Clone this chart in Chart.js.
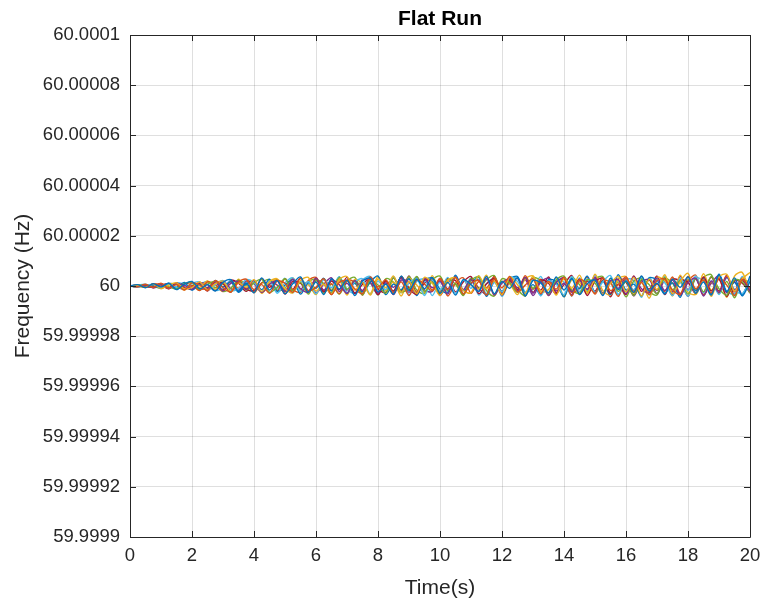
<!DOCTYPE html>
<html>
<head>
<meta charset="utf-8">
<style>
  body { margin: 0; background: #fff; }
</style>
</head>
<body>
<div>
  <canvas id="myChart" width="762" height="606"></canvas>
</div>

<script src="https://cdn.jsdelivr.net/npm/chart.js"></script>

<script>
  // time axis (s), one sample every 0.25 s
  const times = [
    0, 0.25, 0.5, 0.75, 1, 1.25, 1.5, 1.75, 2, 2.25,
    2.5, 2.75, 3, 3.25, 3.5, 3.75, 4, 4.25, 4.5, 4.75,
    5, 5.25, 5.5, 5.75, 6, 6.25, 6.5, 6.75, 7, 7.25,
    7.5, 7.75, 8, 8.25, 8.5, 8.75, 9, 9.25, 9.5, 9.75,
    10, 10.25, 10.5, 10.75, 11, 11.25, 11.5, 11.75, 12, 12.25,
    12.5, 12.75, 13, 13.25, 13.5, 13.75, 14, 14.25, 14.5, 14.75,
    15, 15.25, 15.5, 15.75, 16, 16.25, 16.5, 16.75, 17, 17.25,
    17.5, 17.75, 18, 18.25, 18.5, 18.75, 19, 19.25, 19.5, 19.75,
    20
  ];

  // deviation from 60 Hz, read in units of 0.18 µHz (about 0.45 px on this axis)
  const devBlue = [
    0, 3, -4, 5, -2, 6, -8, 4, 10, -6,
    3, -11, 8, 14, -12, 6, -15, 18, -9, 12,
    -17, 5, 20, -14, 9, -19, 16, -7, 13, -21,
    11, 17, -13, 4, -18, 22, -10, 15, -6, 19,
    -16, 8, -20, 14, 3, -12, 21, -17, 10, -5,
    18, -22, 12, 7, -15, 20, -9, 16, -19, 5,
    13, -21, 17, -8, 11, -14, 22, -11, 6, -18,
    15, -3, 20, -16, 9, -20, 24, -12, 18, -22,
    10
  ];
  const devOrange = [
    0, -2, 4, -3, 6, -5, 3, -9, 7, 2,
    -10, 12, -4, -13, 9, 15, -8, 3, -16, 11,
    6, -14, 18, -10, -3, 16, -19, 8, 12, -6,
    -17, 20, -2, 14, -15, 9, -21, 13, 4, -11,
    17, -8, 19, -18, 6, 12, -20, 15, -4, 21,
    -13, 2, 16, -17, 10, -7, 19, -22, 14, 5,
    -16, 18, -10, 3, 20, -14, 8, -19, 12, 15,
    -9, -18, 21, -6, 13, -15, 17, 2, -21, 14,
    -4
  ];
  const devYellow = [
    0, 1, -3, 4, -5, 2, 7, -6, -3, 9,
    -8, 5, 11, -13, 7, -3, 14, -12, 10, 16,
    -6, -15, 12, 19, -11, 4, -18, 15, 21, -9,
    8, -20, 16, -4, 22, -14, 10, -17, 19, 6,
    -21, 13, 18, -10, -15, 23, -7, 11, -19, 20,
    3, -16, 22, -12, 9, -20, 17, -5, 24, -14,
    12, -18, 6, 21, -13, 19, -22, 15, -8, 25,
    -17, 10, 28, -19, 14, -23, 20, 26, -11, 16,
    30
  ];
  const devPurple = [
    0, -1, 2, -4, 3, -6, 5, 2, -7, 8,
    -5, 9, -11, 6, 10, -8, 13, -14, 4, 11,
    -12, 15, -6, -13, 17, -9, 14, 3, -16, 12,
    -10, 18, -15, 7, -19, 13, 9, -17, 16, -4,
    11, -18, 20, -8, 14, -12, 17, -20, 6, 15,
    -11, 19, -16, 10, -21, 8, 18, -13, 12, -7,
    16, -19, 9, 14, -17, 20, -6, -15, 18, -10,
    13, -20, 7, 17, -22, 11, -14, 19, -9, 15,
    -12
  ];
  const devGreen = [
    0, 2, 1, -3, 4, -2, -6, 5, 8, -7,
    4, 10, -12, -5, 13, -9, 7, 15, -14, -3,
    16, -11, 8, -18, 13, 5, -15, 19, -7, 11,
    -20, 14, 2, -16, 18, -12, -6, 21, -13, 9,
    -17, 15, 4, -19, 12, 20, -10, -22, 16, 7,
    -14, 18, -5, 11, -20, 13, 22, -9, -16, 14,
    6, -19, 17, -12, 10, -21, 15, 3, -17, 19,
    -8, 12, -18, 16, -13, 21, -6, -20, 14, 9,
    -15
  ];
  const devCyan = [
    0, -3, 2, 3, -4, 5, -3, -7, 6, 9,
    -9, 3, 12, -10, -6, 14, 8, -13, 11, -16,
    7, 18, -12, 10, -17, 14, -4, 20, -15, 9,
    16, -19, 11, -8, 21, -14, 6, 17, -21, 12,
    -9, 19, -16, 13, -5, 22, -18, 8, -13, 20,
    10, -17, 15, -22, 11, 4, -19, 21, -12, 16,
    -14, 9, 23, -18, 12, -8, 19, -20, 14, 7,
    -21, 17, -10, 22, -15, 11, -19, 18, -7, -17,
    13
  ];
  const devRed = [
    0, 2, -2, -1, 5, -4, 6, -5, -2, 7,
    -11, 9, 5, -14, 12, -7, -10, 16, -3, 13,
    -18, 10, 6, -15, 17, -13, 11, -8, 19, -16,
    4, 15, -19, 12, -11, 20, -6, -18, 14, 10,
    -15, 17, -13, 9, 21, -17, 5, 16, -20, 12,
    -8, 19, -14, 13, 6, -18, 20, -11, 15, -21,
    10, 17, -16, 4, -19, 22, -12, 14, -9, 18,
    -20, 13, 8, -17, 20, -11, 15, -23, 12, 6,
    -14
  ];
  const devBlue2 = [
    0, -2, 3, 1, -4, 6, -3, 8, -9, 5,
    -7, 12, -2, 9, -14, 4, 11, -8, 15, -12,
    2, 14, -18, 7, -5, 17, -11, 20, -16, 6,
    -13, 9, 22, -19, 4, -8, 16, -21, 12, 18,
    -7, -15, 24, -10, 5, 19, -23, 8, -12, 15,
    21, -17, 3, -20, 14, 9, -24, 17, -6, 22,
    -14, 11, -19, 25, -9, 4, -22, 18, 13, -16,
    7, -25, 20, -11, 16, -18, 26, -13, 8, -20,
    22
  ];
  const devOrange2 = [
    0, 1, -3, 5, 2, -6, 7, -4, 1, -10,
    9, 3, -12, 10, -5, 13, -15, 7, 2, -11,
    16, -8, -14, 12, 19, -10, 5, -17, 13, 8,
    -20, 15, -6, 11, -18, 21, -3, -13, 17, -9,
    14, -22, 6, 18, -16, 10, -4, 20, -19, 12,
    -11, 23, -7, 15, -21, 9, 16, -14, -5, 19,
    -18, 13, 7, -23, 17, -10, 21, -15, 4, -12,
    20, -17, 11, 24, -20, 8, -16, 22, -13, 18,
    -10
  ];
  const devYellow2 = [
    0, -1, -2, 4, -6, 3, 5, -9, 8, -3,
    11, -7, 4, -12, 15, -5, 9, -16, 6, 13,
    -14, 18, -9, 3, -19, 16, -8, 12, -20, 14,
    5, -17, 21, -11, 9, -22, 17, 2, -15, 23,
    -12, 8, 20, -18, 13, -7, 24, -21, 10, 4,
    -19, 16, 22, -13, -8, 18, -24, 14, 9, -17,
    26, -10, -20, 15, 21, -16, 8, -27, 19, 12,
    -22, 24, -14, -18, 27, -9, 15, -25, 22, 30,
    -15
  ];
  const devPurple2 = [
    0, 2, -3, 1, 4, -5, 6, -2, -8, 7,
    3, -10, 12, -6, -9, 11, 5, -14, 10, 2,
    -13, 16, -7, 9, -15, 4, 18, -12, 6, -17,
    14, 8, -19, 11, -3, 17, -14, 20, -9, -12,
    16, -6, 19, -17, 7, 13, -20, 10, -15, 18,
    -4, 14, -21, 9, 17, -11, 6, -19, 15, -8,
    20, -16, 12, -5, 18, -22, 9, 14, -17, 11,
    -13, 21, -8, 16, -19, 6, 23, -15, 10, -18,
    14
  ];
  const devGreen2 = [
    0, -2, 3, -1, -4, 5, 3, -7, 6, -9,
    10, -4, 8, -11, 12, 3, -13, 7, 14, -10,
    -5, 17, -12, 9, 15, -16, 4, -18, 11, 19,
    -13, 6, -20, 16, 8, -15, 21, -9, -17, 13,
    22, -11, 5, -21, 17, -6, 14, 23, -19, 10,
    -8, -22, 18, 12, -16, 7, -23, 20, 3, -13,
    15, 21, -18, 9, -24, 11, 17, -12, -20, 16,
    6, -21, 14, -9, 19, 25, -17, 10, -26, 13,
    8
  ];
  const devCyan2 = [
    0, 2, 4, -3, 1, -5, 7, 4, -8, 3,
    10, -9, -5, 13, -11, 8, 6, -14, 12, -7,
    17, -15, 9, 4, -18, 14, -10, 19, -6, -16,
    13, 21, -17, 7, -12, 20, -19, 10, 15, -21,
    8, -14, 22, -9, 18, -20, 5, 16, -23, 11,
    19, -13, -7, 21, -17, 14, 9, -22, 18, -11,
    24, -16, 7, -20, 15, 12, -25, 19, -10, 22,
    -14, 8, -23, 18, 11, -19, 26, -12, -17, 21,
    -9
  ];
  const devRed2 = [
    0, -1, 3, -4, 2, 5, -7, 3, 8, -6,
    -4, 11, -9, 13, 6, -12, 10, -15, 4, 14,
    -10, -8, 17, -14, 12, 5, -19, 16, -9, 13,
    -18, 20, -7, -14, 18, -11, 22, -16, 6, 15,
    -21, 9, 12, -19, 16, -5, -18, 21, -13, 8,
    17, -22, 14, -9, 20, -15, 3, 23, -18, 11,
    -12, 19, -24, 16, 8, -20, 13, -7, 22, -19,
    15, 10, -23, 17, -14, 20, -11, 24, -21, 12,
    -16
  ];

  const seriesList = [
    devBlue, devOrange, devYellow, devPurple, devGreen, devCyan, devRed,
    devBlue2, devOrange2, devYellow2, devPurple2, devGreen2, devCyan2, devRed2
  ];
  const seriesColors = ['#0072BD', '#D95319', '#EDB120', '#7E2F8E', '#77AC30', '#4DBEEE', '#A2142F'];

  const nominal = 60;
  const devUnit = 1.8e-7;

  const yTicks = [59.9999, 59.99992, 59.99994, 59.99996, 59.99998, 60, 60.00002, 60.00004, 60.00006, 60.00008, 60.0001];
  const yTickLabels = ['59.9999', '59.99992', '59.99994', '59.99996', '59.99998', '60', '60.00002', '60.00004', '60.00006', '60.00008', '60.0001'];
  const xTicks = [0, 2, 4, 6, 8, 10, 12, 14, 16, 18, 20];

  const axisColor = '#262626';
  const FONT = '"Liberation Sans", Arial, Helvetica, sans-serif';

  // box, inward tick marks and title the way MATLAB draws them
  const matlabAxes = {
    id: 'matlabAxes',
    afterDraw(chart) {
      const c = chart.ctx;
      const a = chart.chartArea;
      const xs = chart.scales.x, ys = chart.scales.y;
      c.save();
      c.strokeStyle = axisColor;
      c.lineWidth = 1;
      c.beginPath();
      c.rect(Math.round(a.left) + 0.5, Math.round(a.top) + 0.5,
             Math.round(a.right - a.left), Math.round(a.bottom - a.top));
      xTicks.forEach(v => {
        const px = Math.round(xs.getPixelForValue(v)) + 0.5;
        c.moveTo(px, a.bottom); c.lineTo(px, a.bottom - 6);
        c.moveTo(px, a.top); c.lineTo(px, a.top + 6);
      });
      yTicks.forEach(v => {
        const py = Math.round(ys.getPixelForValue(v)) + 0.5;
        c.moveTo(a.left, py); c.lineTo(a.left + 6, py);
        c.moveTo(a.right, py); c.lineTo(a.right - 6, py);
      });
      c.stroke();

      c.fillStyle = '#000';
      c.font = 'bold 21px ' + FONT;
      c.textAlign = 'center';
      c.textBaseline = 'middle';
      c.fillText('Flat Run', (a.left + a.right) / 2, 19);
      c.restore();
    }
  };

  const ctx = document.getElementById('myChart');

  const myChart = new Chart(ctx, {
    type: 'line',
    data: {
      datasets: seriesList.map((dev, k) => ({
        label: 'run ' + (k + 1),
        data: dev.map((d, i) => ({ x: times[i], y: nominal + d * devUnit })),
        borderColor: seriesColors[k % seriesColors.length],
        borderWidth: 1.4,
        pointRadius: 0,
        tension: 0.3,
        fill: false
      }))
    },
    options: {
      responsive: false,
      animation: false,
      events: [],
      layout: { padding: { top: 35, right: 12, left: 0, bottom: 0 } },
      plugins: {
        legend: { display: false },
        title: { display: false },
        tooltip: { enabled: false }
      },
      scales: {
        x: {
          type: 'linear',
          min: 0,
          max: 20,
          afterBuildTicks: s => { s.ticks = xTicks.map(v => ({ value: v })); },
          afterFit: s => { s.height = 69; s.paddingLeft = 0; s.paddingRight = 0; },
          grid: { color: 'rgba(38,38,38,0.15)', drawTicks: false },
          border: { display: false },
          ticks: { color: axisColor, font: { family: FONT, size: 18.5 }, padding: 8, maxRotation: 0 },
          title: { display: true, text: 'Time(s)', color: axisColor, font: { family: FONT, size: 21 }, padding: { top: 0, bottom: 5 } }
        },
        y: {
          type: 'linear',
          min: 59.9999,
          max: 60.0001,
          afterBuildTicks: s => { s.ticks = yTicks.map(v => ({ value: v })); },
          afterFit: s => { s.width = 130; s.paddingTop = 0; s.paddingBottom = 0; },
          grid: { color: 'rgba(38,38,38,0.15)', drawTicks: false },
          border: { display: false },
          ticks: {
            color: axisColor,
            font: { family: FONT, size: 18.5 },
            padding: 10,
            callback: (v, i) => yTickLabels[i]
          },
          title: { display: true, text: 'Frequency (Hz)', color: axisColor, font: { family: FONT, size: 21 }, padding: { top: 11, bottom: 0 } }
        }
      }
    },
    plugins: [matlabAxes]
  });
</script>
</body>
</html>
